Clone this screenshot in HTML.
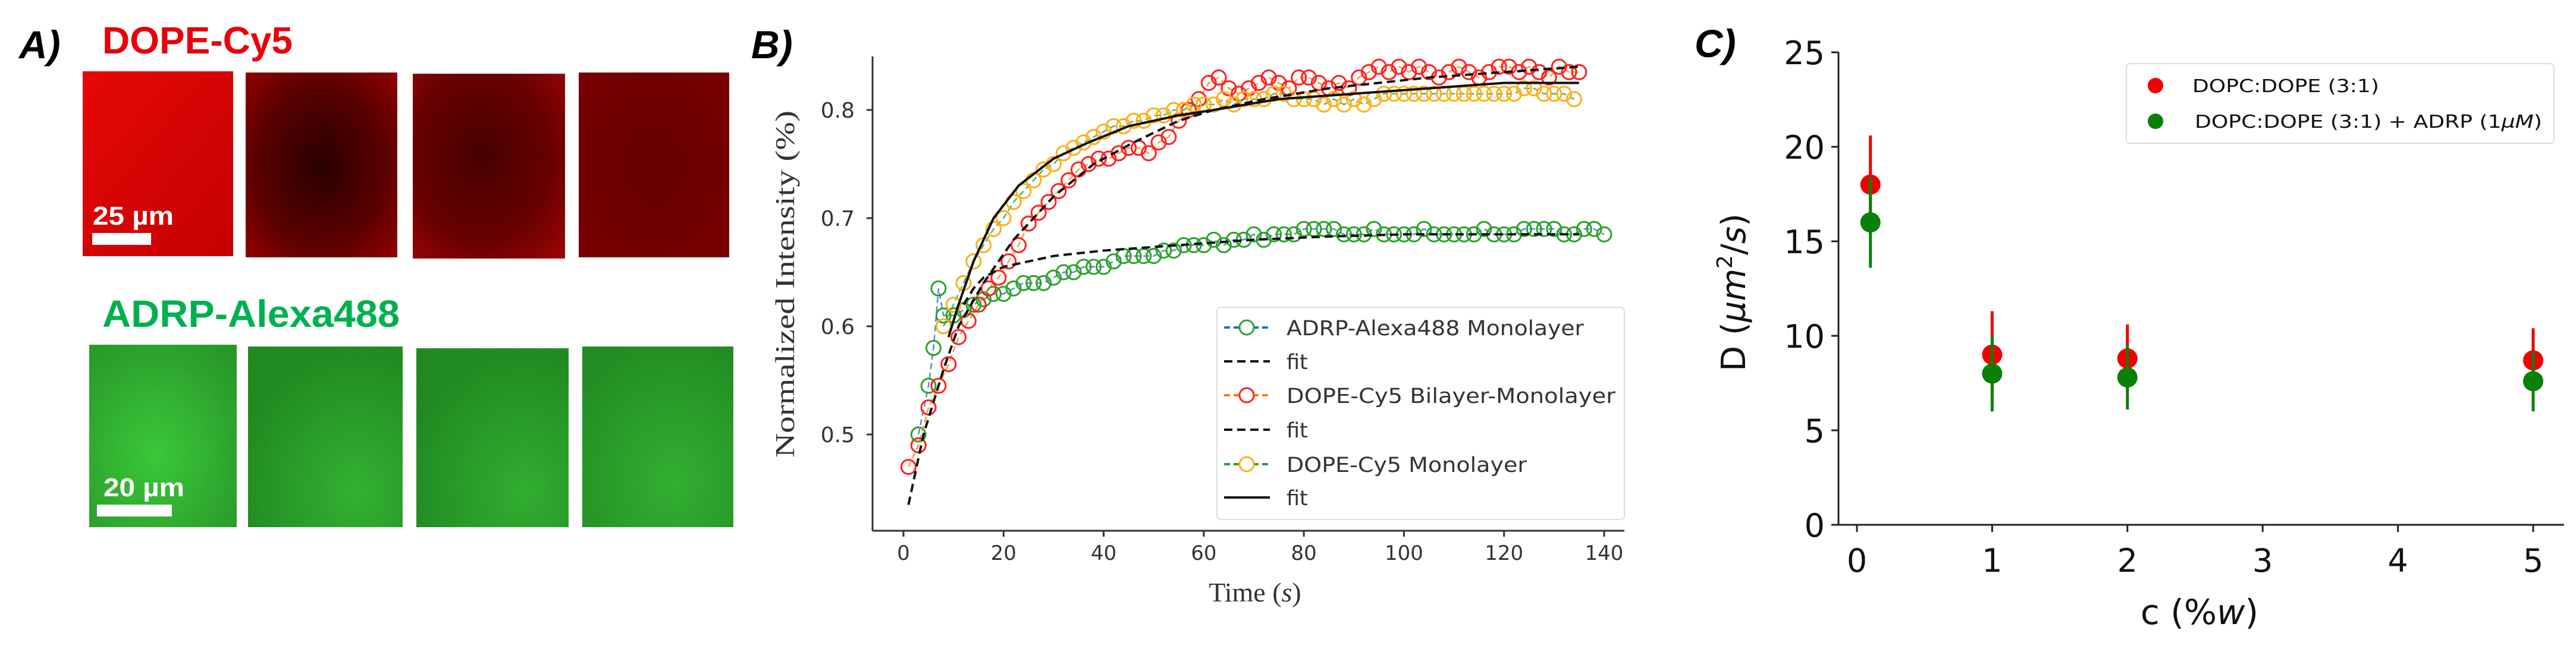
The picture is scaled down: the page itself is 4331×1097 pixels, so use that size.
<!DOCTYPE html>
<html><head><meta charset="utf-8"><style>
html,body{margin:0;padding:0;background:#fff}
svg{display:block}
</style></head><body>
<svg id="fig" xmlns="http://www.w3.org/2000/svg" width="4331" height="1097" viewBox="0 0 4331 1097">
<defs>
<linearGradient id="r1" x1="0" y1="0" x2="1" y2="1"><stop offset="0" stop-color="#e60808"/><stop offset="1" stop-color="#c40000"/></linearGradient>
<radialGradient id="r2" cx="0.5" cy="0.5" r="0.7"><stop offset="0" stop-color="#2a0000"/><stop offset="0.6" stop-color="#5a0000"/><stop offset="1" stop-color="#930000"/></radialGradient>
<radialGradient id="r3" cx="0.45" cy="0.45" r="0.75"><stop offset="0" stop-color="#460000"/><stop offset="0.6" stop-color="#680000"/><stop offset="1" stop-color="#9a0505"/></radialGradient>
<radialGradient id="r4" cx="0.5" cy="0.5" r="0.8"><stop offset="0" stop-color="#660000"/><stop offset="1" stop-color="#7c0000"/></radialGradient>
<radialGradient id="g1" cx="0.45" cy="0.6" r="0.7"><stop offset="0" stop-color="#2cc02c"/><stop offset="1" stop-color="#178a17"/></radialGradient>
<radialGradient id="g2" cx="0.7" cy="0.8" r="0.8"><stop offset="0" stop-color="#25a825"/><stop offset="1" stop-color="#117a11"/></radialGradient>
<radialGradient id="g3" cx="0.7" cy="0.8" r="0.8"><stop offset="0" stop-color="#23a423"/><stop offset="1" stop-color="#117a11"/></radialGradient>
<radialGradient id="g4" cx="0.6" cy="0.75" r="0.8"><stop offset="0" stop-color="#24a624"/><stop offset="1" stop-color="#137e13"/></radialGradient>
<filter id="noise" x="0" y="0" width="1" height="1"><feTurbulence type="fractalNoise" baseFrequency="0.7" numOctaves="1" result="n"/><feColorMatrix in="n" type="matrix" values="0 0 0 0 0.25  0 0 0 0 0.85  0 0 0 0 0.25  0 0 0 0.45 0"/><feComposite in2="SourceGraphic" operator="in"/></filter>
</defs>

<!-- Panel A -->
<g>
<text x="32" y="98" font-family="Liberation Sans, sans-serif" font-weight="bold" font-style="italic" font-size="66">A)</text>
<text x="172" y="90" font-family="Liberation Sans, sans-serif" font-weight="bold" font-size="64" fill="#e8000b" textLength="320" lengthAdjust="spacingAndGlyphs">DOPE-Cy5</text>
<rect x="139" y="120" width="253" height="311" fill="url(#r1)"/>
<rect x="413" y="122" width="255" height="311" fill="url(#r2)"/>
<rect x="694" y="124" width="256" height="311" fill="url(#r3)"/>
<rect x="973" y="122" width="253" height="311" fill="url(#r4)"/>
<text x="156" y="378" font-family="Liberation Sans, sans-serif" font-weight="bold" font-size="44" fill="#fff" textLength="136" lengthAdjust="spacingAndGlyphs">25 µm</text>
<rect x="155" y="392" width="99" height="20" fill="#fff"/>
<text x="172" y="550" font-family="Liberation Sans, sans-serif" font-weight="bold" font-size="64" fill="#00b050" textLength="500" lengthAdjust="spacingAndGlyphs">ADRP-Alexa488</text>
<rect x="150" y="580" width="248" height="307" fill="url(#g1)"/>
<rect x="150" y="580" width="248" height="307" fill="#fff" filter="url(#noise)" opacity="0.7"/>
<rect x="417" y="583" width="260" height="304" fill="url(#g2)"/>
<rect x="417" y="583" width="260" height="304" fill="#fff" filter="url(#noise)" opacity="0.6"/>
<rect x="700" y="586" width="256" height="301" fill="url(#g3)"/>
<rect x="700" y="586" width="256" height="301" fill="#fff" filter="url(#noise)" opacity="0.6"/>
<rect x="979" y="583" width="254" height="304" fill="url(#g4)"/>
<rect x="979" y="583" width="254" height="304" fill="#fff" filter="url(#noise)" opacity="0.6"/>
<text x="174" y="835" font-family="Liberation Sans, sans-serif" font-weight="bold" font-size="44" fill="#fff" textLength="136" lengthAdjust="spacingAndGlyphs">20 µm</text>
<rect x="163" y="849" width="126" height="20" fill="#fff"/>
</g>

<!-- Panel B -->
<g id="pb">
<text x="1263" y="98" font-family="Liberation Sans, sans-serif" font-weight="bold" font-style="italic" font-size="66">B)</text>
</g>
<!-- Panel C -->
<g id="pc">
<text x="2849" y="96" font-family="Liberation Sans, sans-serif" font-weight="bold" font-style="italic" font-size="66">C)</text>
</g>
</svg>
<script>
// ---------- Panel B data ----------
const bXTicks = [0,20,40,60,80,100,120,140];
const bYTicks = [0.5,0.6,0.7,0.8];
const bYTickLabels = ["0.5","0.6","0.7","0.8"];
const adrpPts = [[3,.50],[5,.545],[6,.58],[7,.635],[8,.61],[10,.61],[12,.615],[14,.62],[16,.625],[18,.63],[20,.63],[22,.635],[24,.64],[26,.64],[28,.64],[30,.645],[32,.65],[34,.65],[36,.655],[38,.655],[40,.655],[42,.66],[44,.665],[46,.665],[48,.665],[50,.665],[52,.67],[54,.67],[56,.675],[58,.675],[60,.675],[62,.68],[64,.675],[66,.68],[68,.68],[70,.685],[72,.68],[74,.685],[76,.685],[78,.685],[80,.69],[82,.69],[84,.69],[86,.69],[88,.685],[90,.685],[92,.685],[94,.69],[96,.685],[98,.685],[100,.685],[102,.685],[104,.69],[106,.685],[108,.685],[110,.685],[112,.685],[114,.685],[116,.69],[118,.685],[120,.685],[122,.685],[124,.69],[126,.69],[128,.69],[130,.69],[132,.685],[134,.685],[136,.69],[138,.69],[140,.685]];
const bilayerPts = [[1,.47],[3,.49],[5,.525],[7,.545],[9,.565],[11,.59],[13,.605],[15,.62],[17,.635],[19,.645],[21,.66],[23,.675],[25,.695],[27,.705],[29,.715],[31,.725],[33,.735],[35,.745],[37,.75],[39,.755],[41,.755],[43,.76],[45,.765],[47,.765],[49,.76],[51,.77],[53,.775],[55,.79],[57,.80],[59,.81],[61,.825],[63,.83],[65,.82],[67,.815],[69,.82],[71,.825],[73,.83],[75,.825],[77,.82],[79,.83],[81,.83],[83,.825],[85,.82],[87,.825],[89,.82],[91,.83],[93,.835],[95,.84],[97,.835],[99,.84],[101,.835],[103,.84],[105,.835],[107,.83],[109,.835],[111,.84],[113,.835],[115,.83],[117,.835],[119,.84],[121,.84],[123,.835],[125,.84],[127,.835],[129,.83],[131,.84],[133,.835],[135,.835]];
const monoPts = [[8,.60],[10,.62],[12,.64],[14,.66],[16,.675],[18,.69],[20,.70],[22,.715],[24,.725],[26,.735],[28,.745],[30,.75],[32,.76],[34,.765],[36,.77],[38,.775],[40,.78],[42,.785],[44,.785],[46,.79],[48,.79],[50,.795],[52,.795],[54,.80],[56,.80],[58,.805],[60,.805],[62,.805],[64,.81],[66,.805],[68,.81],[70,.81],[72,.81],[74,.815],[76,.815],[78,.81],[80,.81],[82,.81],[84,.805],[86,.81],[88,.805],[90,.81],[92,.805],[94,.81],[96,.815],[98,.815],[100,.815],[102,.815],[104,.815],[106,.815],[108,.815],[110,.815],[112,.815],[114,.815],[116,.815],[118,.815],[120,.815],[122,.815],[124,.82],[126,.82],[128,.815],[130,.815],[132,.815],[134,.81]];
const adrpFit = [[12,.62],[14,.635],[16,.645],[20,.655],[25,.66],[30,.665],[40,.67],[55,.675],[70,.68],[85,.683],[100,.685],[120,.685],[135,.685]];
const bilayerFit = [[1,.435],[4,.50],[8,.56],[11,.60],[16,.64],[22,.68],[30,.72],[38,.75],[46,.77],[55,.79],[62,.80],[72,.81],[85,.82],[105,.83],[120,.835],[135,.84]];
const monoFit = [[9,.59],[11,.62],[14,.66],[18,.70],[23,.73],[30,.755],[37,.77],[45,.785],[55,.795],[62,.80],[75,.81],[90,.815],[105,.82],[120,.825],[135,.825]];
const bLegendLabels = ["ADRP-Alexa488 Monolayer","fit","DOPE-Cy5 Bilayer-Monolayer","fit","DOPE-Cy5 Monolayer","fit"];

// ---------- Panel C data ----------
const cXTicks = [0,1,2,3,4,5];
const cYTicks = [0,5,10,15,20,25];
const cConc = [0.1,1,2,5];
const cRedD = [18,9,8.8,8.7];
const cRedErr = [2.6,2.3,1.8,1.7];
const cGreenD = [16,8,7.8,7.6];
const cGreenErr = [2.4,2.0,1.7,1.6];
const cLegendLabels = ["DOPC:DOPE (3:1)","DOPC:DOPE (3:1) + ADRP (1"];

const NS = "http://www.w3.org/2000/svg";
function mk(parent, tag, attrs, text){
  const e = document.createElementNS(NS, tag);
  for (const k in attrs) e.setAttribute(k, attrs[k]);
  if (text !== undefined) e.textContent = text;
  parent.appendChild(e);
  return e;
}
// ---------- Panel B ----------
const pb = document.getElementById('pb');
const bx = t => 1519 + (t - 0) * (2697 - 1519) / 140;
const by = v => 185 - (v - 0.8) * 1820;
let e;
e = mk(pb,'line',{x1:1467,y1:95,x2:1467,y2:893,stroke:'#333','stroke-width':3});


e = mk(pb,'line',{x1:1467,y1:893,x2:2731,y2:893,stroke:'#333','stroke-width':3});


bXTicks.forEach(t=>{
  mk(pb,'line',{x1:bx(t),y1:893,x2:bx(t),y2:903,stroke:'#333','stroke-width':3});
  e = mk(pb,'text',{x:bx(t),y:942,'text-anchor':'middle','font-family':'DejaVu Sans, sans-serif','font-size':34,fill:'#333'},String(t));
  
  
});
bYTicks.forEach((v,i)=>{
  mk(pb,'line',{x1:1457,y1:by(v),x2:1467,y2:by(v),stroke:'#333','stroke-width':3});
  e = mk(pb,'text',{x:1437,y:by(v)+13,'text-anchor':'end','font-family':'DejaVu Sans, sans-serif','font-size':36,fill:'#333'},bYTickLabels[i]);
  
  
});
e = mk(pb,'text',{transform:'translate(1335,478) rotate(-90)','text-anchor':'middle','font-family':'Liberation Serif, serif','font-size':46,fill:'#333',textLength:584,lengthAdjust:'spacingAndGlyphs'},'Normalized Intensity (%)');


e = mk(pb,'text',{x:2110,y:1012,'text-anchor':'middle','font-family':'Liberation Serif, serif','font-size':46,fill:'#333'});


e.innerHTML = 'Time (<tspan font-style="italic">s</tspan>)';
function pathOf(pts){return pts.map((p,i)=>(i?'L':'M')+bx(p[0]).toFixed(1)+','+by(p[1]).toFixed(1)).join(' ');}
function series(pts, lineCol, markCol, name){
  const g = mk(pb,'g',{});
  
  
  mk(g,'path',{d:pathOf(pts),fill:'none',stroke:lineCol,'stroke-width':2.5,'stroke-dasharray':'10,6',opacity:0.8});
  pts.forEach(p=>{
    const c = mk(g,'circle',{cx:bx(p[0]),cy:by(p[1]),r:12,fill:'none',stroke:markCol,'stroke-width':3});
    
    
  });
}
series(adrpPts,'#1f77b4','#2ca02c','adrp-series');
series(bilayerPts,'#ff7f0e','#ff2020','bilayer-series');
series(monoPts,'#2ca02c','#ffae1a','monolayer-series');
function fitLine(pts,dash,name){
  const p = mk(pb,'path',{d:pathOf(pts),fill:'none',stroke:'#111','stroke-width':4,'stroke-dasharray':dash});
  
  
}
fitLine(adrpFit,'14,8','adrp-fit');
fitLine(bilayerFit,'14,8','bilayer-fit');
fitLine(monoFit,'none','monolayer-fit');
// legend B
const lg = mk(pb,'g',{});


mk(lg,'rect',{x:2046,y:517,width:685,height:357,rx:6,fill:'#fff','fill-opacity':0.85,stroke:'#ddd','stroke-width':2});
const lineCols = ['#1f77b4','#111','#ff7f0e','#111','#2ca02c','#111'];
const markCols = ['#2ca02c',null,'#ff2020',null,'#ffae1a',null];
const legY = [551,608,665,723,781,837];
bLegendLabels.forEach((lab,i)=>{
  const y = legY[i];
  const solid = i===5;
  mk(lg,'line',{x1:2058,y1:y,x2:2135,y2:y,stroke:lineCols[i],'stroke-width':4,'stroke-dasharray':solid?'none':(markCols[i]?'10,6':'14,8')});
  if (markCols[i]) mk(lg,'circle',{cx:2096,cy:y,r:12,fill:'#fff',stroke:markCols[i],'stroke-width':3});
  const attrs = {x:2163,y:y+13,'font-family':'DejaVu Sans, sans-serif','font-size':35,fill:'#333'};
  if (lab.length>5) { attrs.textLength = [500,0,553,0,404,0][i]; attrs.lengthAdjust='spacingAndGlyphs'; }
  const t = mk(lg,'text',attrs,lab);
  
  
});

// ---------- Panel C ----------
const pc = document.getElementById('pc');
const cx = c => 3122 + c * (4259 - 3122) / 5;
const cy = d => 883 - d * (883 - 88) / 25;
e = mk(pc,'line',{x1:3091,y1:88,x2:3091,y2:883,stroke:'#222','stroke-width':3});


e = mk(pc,'line',{x1:3091,y1:883,x2:4311,y2:883,stroke:'#222','stroke-width':3});


cXTicks.forEach(t=>{
  mk(pc,'line',{x1:cx(t),y1:883,x2:cx(t),y2:895,stroke:'#222','stroke-width':3});
  e = mk(pc,'text',{x:cx(t),y:962,'text-anchor':'middle','font-family':'DejaVu Sans, sans-serif','font-size':54,fill:'#111'},String(t));
  
  
});
cYTicks.forEach(t=>{
  mk(pc,'line',{x1:3079,y1:cy(t),x2:3091,y2:cy(t),stroke:'#222','stroke-width':3});
  e = mk(pc,'text',{x:3068,y:cy(t)+20,'text-anchor':'end','font-family':'DejaVu Sans, sans-serif','font-size':54,fill:'#111'},String(t));
  
  
});
e = mk(pc,'text',{transform:'translate(2934,492) rotate(-90)','text-anchor':'middle','font-family':'DejaVu Sans, sans-serif','font-size':56,fill:'#111'});


e.innerHTML = 'D (<tspan font-style="italic">µm</tspan><tspan font-size="36" dy="-22">2</tspan><tspan dy="22">/</tspan><tspan font-style="italic">s</tspan>)';
e = mk(pc,'text',{x:3698,y:1050,'text-anchor':'middle','font-family':'DejaVu Sans, sans-serif','font-size':58,fill:'#111'});


e.innerHTML = 'c (%<tspan font-style="italic">w</tspan>)';
function cSeries(vals, errs, col, name){
  cConc.forEach((c,i)=>{
    const l = mk(pc,'line',{x1:cx(c),y1:cy(vals[i]-errs[i]),x2:cx(c),y2:cy(vals[i]+errs[i]),stroke:col,'stroke-width':5});
    
    
  });
  cConc.forEach((c,i)=>{
    const p = mk(pc,'circle',{cx:cx(c),cy:cy(vals[i]),r:17,fill:col});
    
    
  });
}
cSeries(cRedD,cRedErr,'#f00000','dopc-dope');
cSeries(cGreenD,cGreenErr,'#0a800a','dopc-dope-adrp');
const cl = mk(pc,'g',{});


mk(cl,'rect',{x:3575,y:107,width:719,height:134,rx:6,fill:'#fff',stroke:'#ddd','stroke-width':2});
mk(cl,'circle',{cx:3624,cy:144,r:13,fill:'#f00000'});
mk(cl,'circle',{cx:3624,cy:204,r:13,fill:'#0a800a'});
e = mk(cl,'text',{x:3686,y:155,'font-family':'DejaVu Sans, sans-serif','font-size':30,fill:'#111',textLength:314,lengthAdjust:'spacingAndGlyphs'},cLegendLabels[0]);


e = mk(cl,'text',{x:3690,y:215,'font-family':'DejaVu Sans, sans-serif','font-size':30,fill:'#111'});


e.innerHTML = cLegendLabels[1]+'<tspan font-style="italic">µM</tspan>)';
e.setAttribute('textLength',584);
e.setAttribute('lengthAdjust','spacingAndGlyphs');
</script>
</body></html>
